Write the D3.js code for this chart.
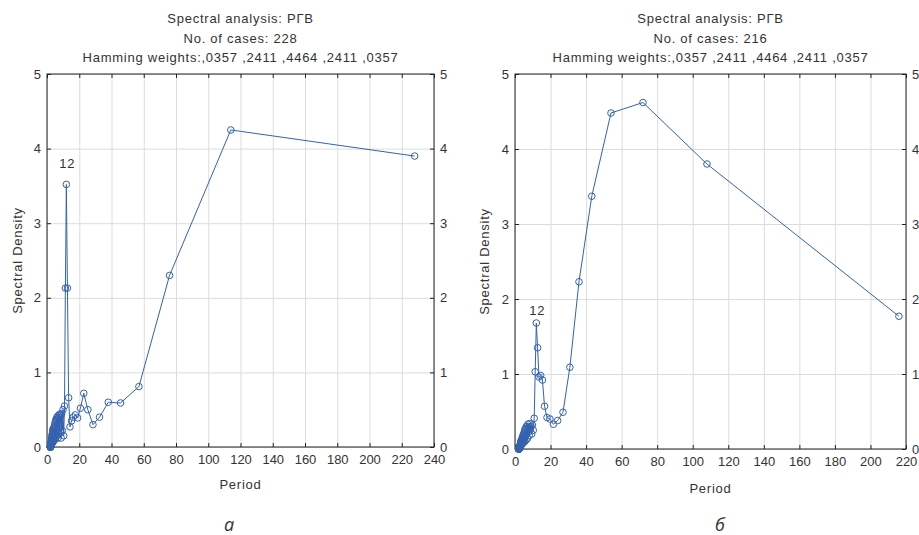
<!DOCTYPE html>
<html>
<head>
<meta charset="utf-8">
<script src="https://cdn.jsdelivr.net/npm/d3@7/dist/d3.min.js"></script>
<style>
	body { margin: 0; background: #fff; }
	text { font-family: 'Liberation Sans', Arial, sans-serif; fill: #333; }
	.tick text { font-size: 13px; }
	.grid line { stroke: #dcdcdc; }
	.grid path { display: none; }
	.frame path { display: none; }
	.frame line { stroke: #222; }
	.axis-label { font-size: 13px; letter-spacing: 0.75px; }
	.title { font-size: 13px; letter-spacing: 0.75px; }
	.panel-name { font-family: 'Open Sans', sans-serif; font-style: italic; font-size: 18px; }
</style>
</head>
<body>
<script>

/* values, period -> spectral density */
var leftTitle = ['Spectral analysis: РГВ', 'No. of cases: 228', 'Hamming weights:,0357 ,2411 ,4464 ,2411 ,0357']
var leftPeriod = [228, 114, 76, 57, 45.6, 38, 32.57, 28.5, 25.33, 22.8,
	20.73, 19, 17.54, 16.29, 15.2, 14.25, 13.41, 12.67, 12, 11.4,
	10.86, 10.36, 9.91, 9.5, 9.12, 8.77, 8.44, 8.14, 7.86, 7.6,
	7.35, 7.13, 6.91, 6.71, 6.51, 6.33, 6.16, 6, 5.85, 5.7,
	5.56, 5.43, 5.3, 5.18, 5.07, 4.96, 4.85, 4.75, 4.65, 4.56,
	4.47, 4.38, 4.3, 4.22, 4.15, 4.07, 4, 3.93, 3.86, 3.8,
	3.74, 3.68, 3.62, 3.56, 3.51, 3.45, 3.4, 3.35, 3.3, 3.26,
	3.21, 3.17, 3.12, 3.08, 3.04, 3, 2.96, 2.92, 2.89, 2.85,
	2.81, 2.78, 2.75, 2.71, 2.68, 2.65, 2.62, 2.59, 2.56, 2.53,
	2.51, 2.48, 2.45, 2.43, 2.4, 2.38, 2.35, 2.33, 2.3, 2.28,
	2.26, 2.24, 2.21, 2.19, 2.17, 2.15, 2.13, 2.11, 2.09, 2.07,
	2.05, 2.04, 2.02, 2]
var leftDensity = [3.9, 4.25, 2.3, 0.81, 0.59, 0.6, 0.4, 0.3, 0.5, 0.72,
	0.52, 0.39, 0.43, 0.4, 0.35, 0.27, 0.66, 2.13, 3.52, 2.13,
	0.55, 0.15, 0.5, 0.22, 0.45, 0.12, 0.42, 0.3, 0.44, 0.18,
	0.4, 0.25, 0.42, 0.12, 0.38, 0.22, 0.4, 0.15, 0.36, 0.2,
	0.37, 0.12, 0.34, 0.18, 0.33, 0.1, 0.3, 0.16, 0.28, 0.12,
	0.27, 0.1, 0.25, 0.14, 0.24, 0.08, 0.22, 0.12, 0.2, 0.07,
	0.24, 0.12, 0.22, 0.08, 0.2, 0.11, 0.18, 0.07, 0.17, 0.09,
	0.16, 0.06, 0.14, 0.08, 0.13, 0.05, 0.12, 0.07, 0.1, 0.04,
	0.09, 0.04, 0.08, 0.03, 0.07, 0.03, 0.06, 0.03, 0.05, 0.02,
	0.04, 0.02, 0.04, 0.01, 0.03, 0.01, 0.02, 0.01, 0.02, 0.01,
	0.01, 0.01, 0.01, 0, 0.01, 0, 0, 0, 0, 0,
	0, 0, 0, 0]
var leftXTicks = [0, 20, 40, 60, 80, 100, 120, 140, 160, 180, 200, 220, 240]

var rightTitle = ['Spectral analysis: РГВ', 'No. of cases: 216', 'Hamming weights:,0357 ,2411 ,4464 ,2411 ,0357']
var rightPeriod = [216, 108, 72, 54, 43.2, 36, 30.86, 27, 24, 21.6,
	19.64, 18, 16.62, 15.43, 14.4, 13.5, 12.71, 12, 11.37,
	10.8, 10.29, 9.82, 9.39, 9, 8.64, 8.31, 8, 7.71, 7.45,
	7.2, 6.97, 6.75, 6.55, 6.35, 6.17, 6, 5.84, 5.68, 5.54,
	5.4, 5.27, 5.14, 5.02, 4.91, 4.8, 4.7, 4.6, 4.5, 4.41,
	4.32, 4.24, 4.15, 4.08, 4, 3.93, 3.86, 3.79, 3.72, 3.66,
	3.6, 3.54, 3.48, 3.43, 3.38, 3.32, 3.27, 3.22, 3.18, 3.13,
	3.09, 3.04, 3, 2.96, 2.92, 2.88, 2.84, 2.81, 2.77, 2.73,
	2.7, 2.67, 2.63, 2.6, 2.57, 2.54, 2.51, 2.48, 2.45, 2.43,
	2.4, 2.37, 2.35, 2.32, 2.3, 2.27, 2.25, 2.23, 2.2, 2.18,
	2.16, 2.14, 2.12, 2.1, 2.08, 2.06, 2.04, 2.02, 2]
var rightDensity = [1.77, 3.8, 4.62, 4.48, 3.37, 2.23, 1.09, 0.49, 0.38, 0.33,
	0.4, 0.42, 0.57, 0.92, 0.98, 0.96, 1.35, 1.68, 1.03,
	0.41, 0.25, 0.32, 0.2, 0.3, 0.26, 0.34, 0.18, 0.3, 0.22,
	0.33, 0.14, 0.28, 0.2, 0.3, 0.12, 0.26, 0.18, 0.27, 0.1,
	0.24, 0.15, 0.22, 0.12, 0.2, 0.1, 0.19, 0.13, 0.18, 0.08,
	0.16, 0.1, 0.15, 0.07, 0.14, 0.09, 0.12, 0.06, 0.11, 0.07,
	0.12, 0.06, 0.11, 0.07, 0.1, 0.05, 0.09, 0.05, 0.08, 0.04,
	0.07, 0.04, 0.06, 0.03, 0.05, 0.03, 0.04, 0.02, 0.04, 0.02,
	0.04, 0.02, 0.04, 0.02, 0.03, 0.01, 0.03, 0.01, 0.02, 0.01,
	0.02, 0.01, 0.01, 0, 0.01, 0, 0.01, 0, 0, 0,
	0, 0, 0, 0, 0, 0, 0, 0, 0]
var rightXTicks = [0, 20, 40, 60, 80, 100, 120, 140, 160, 180, 200, 220]

var yTicks = [0, 1, 2, 3, 4, 5]
var peakPeriod = 12

var svg = d3.select('body').append('svg')
	.attr('width', 919)
	.attr('height', 535)

function panel(id) {

	var p = {};
	p.id = id;

	p.setBox = function (left, right, top, bottom) {
		this.left = left; this.right = right; this.top = top; this.bottom = bottom;
		this.g = svg.append('g').attr('id', 'panel_' + id)
		return (this)
	}

	p.setScales = function (xMax, xTicks) {
		this.xTicks = xTicks
		this.x = d3.scaleLinear().domain([0, xMax]).range([this.left, this.right])
		this.y = d3.scaleLinear().domain([0, 5]).range([this.bottom, this.top])
		return (this)
	}

	p.setGrid = function () {
		var h = this.bottom - this.top, w = this.right - this.left
		this.g.append('g').attr('class', 'grid')
			.attr('transform', 'translate(0,' + this.bottom + ')')
			.call(d3.axisBottom(this.x).tickValues(this.xTicks).tickSize(-h).tickFormat(''))
		this.g.append('g').attr('class', 'grid')
			.attr('transform', 'translate(' + this.left + ',0)')
			.call(d3.axisLeft(this.y).tickValues(yTicks).tickSize(-w).tickFormat(''))
		return (this)
	}

	p.setAxes = function () {
		var fmt = d3.format('d')
		this.g.append('g').attr('class', 'frame')
			.attr('transform', 'translate(0,' + this.bottom + ')')
			.call(d3.axisBottom(this.x).tickValues(this.xTicks).tickSizeInner(-4).tickSizeOuter(0).tickPadding(8).tickFormat(fmt))
		this.g.append('g').attr('class', 'frame')
			.attr('transform', 'translate(0,' + this.top + ')')
			.call(d3.axisTop(this.x).tickValues(this.xTicks).tickSizeInner(-4).tickSizeOuter(0).tickFormat(''))
		this.g.append('g').attr('class', 'frame')
			.attr('transform', 'translate(' + this.left + ',0)')
			.call(d3.axisLeft(this.y).tickValues(yTicks).tickSizeInner(-4).tickSizeOuter(0).tickPadding(6).tickFormat(fmt))
		this.g.append('g').attr('class', 'frame')
			.attr('transform', 'translate(' + this.right + ',0)')
			.call(d3.axisRight(this.y).tickValues(yTicks).tickSizeInner(-4).tickSizeOuter(0).tickPadding(6).tickFormat(fmt))
		this.g.append('rect')
			.attr('x', this.left).attr('y', this.top)
			.attr('width', this.right - this.left).attr('height', this.bottom - this.top)
			.attr('fill', 'none').attr('stroke', '#222')
		return (this)
	}

	p.setTitle = function (lines) {
		var cx = (this.left + this.right) / 2
		this.g.selectAll('.title').data(lines).enter().append('text')
			.attr('class', 'title')
			.attr('x', cx)
			.attr('y', function (d, i) { return 23 + i * 19.5 })
			.attr('text-anchor', 'middle')
			.text(function (d) { return d })
		return (this)
	}

	p.setLabels = function (yLabelX, xLabelY, name, nameX, nameY) {
		var cx = (this.left + this.right) / 2, cy = (this.top + this.bottom) / 2
		this.g.append('text')
			.attr('class', 'axis-label')
			.attr('transform', 'translate(' + yLabelX + ',' + cy + ') rotate(-90)')
			.attr('text-anchor', 'middle')
			.text('Spectral Density')
		this.g.append('text')
			.attr('class', 'axis-label')
			.attr('x', cx).attr('y', xLabelY)
			.attr('text-anchor', 'middle')
			.text('Period')
		this.g.append('text')
			.attr('class', 'panel-name')
			.attr('x', nameX).attr('y', nameY)
			.attr('text-anchor', 'middle')
			.text(name)
		return (this)
	}

	p.setSeries = function (periods, values, peakGap) {
		var ref = this
		var pts = periods.map(function (d, i) { return [d, values[i]] })
		var line = d3.line()
			.x(function (d) { return ref.x(d[0]) })
			.y(function (d) { return ref.y(d[1]) })
		this.g.append('path')
			.datum(pts)
			.attr('d', line)
			.attr('fill', 'none')
			.attr('stroke', '#3462b0')
			.attr('stroke-width', 1)
		this.g.selectAll('.pt').data(pts).enter().append('circle')
			.attr('class', 'pt')
			.attr('cx', function (d) { return ref.x(d[0]) })
			.attr('cy', function (d) { return ref.y(d[1]) })
			.attr('r', 3.3)
			.attr('fill', 'none')
			.attr('stroke', '#3462b0')
			.attr('stroke-width', 1)
		var peak = pts.filter(function (d) { return d[0] === peakPeriod })[0]
		this.g.append('text')
			.attr('class', 'axis-label')
			.attr('x', this.x(peak[0]) + 1)
			.attr('y', this.y(peak[1]) - peakGap)
			.attr('text-anchor', 'middle')
			.text(peakPeriod)
		return (this)
	}

	return (p);
}

panel('a')
	.setBox(47, 434, 74, 447)
	.setScales(240, leftXTicks)
	.setGrid()
	.setAxes()
	.setTitle(leftTitle)
	.setLabels(22, 489, 'а', 229, 531)
	.setSeries(leftPeriod, leftDensity, 16)

panel('b')
	.setBox(515, 906, 74, 449)
	.setScales(220, rightXTicks)
	.setGrid()
	.setAxes()
	.setTitle(rightTitle)
	.setLabels(489, 493, 'б', 720, 531)
	.setSeries(rightPeriod, rightDensity, 8)

</script>
</body>
</html>
